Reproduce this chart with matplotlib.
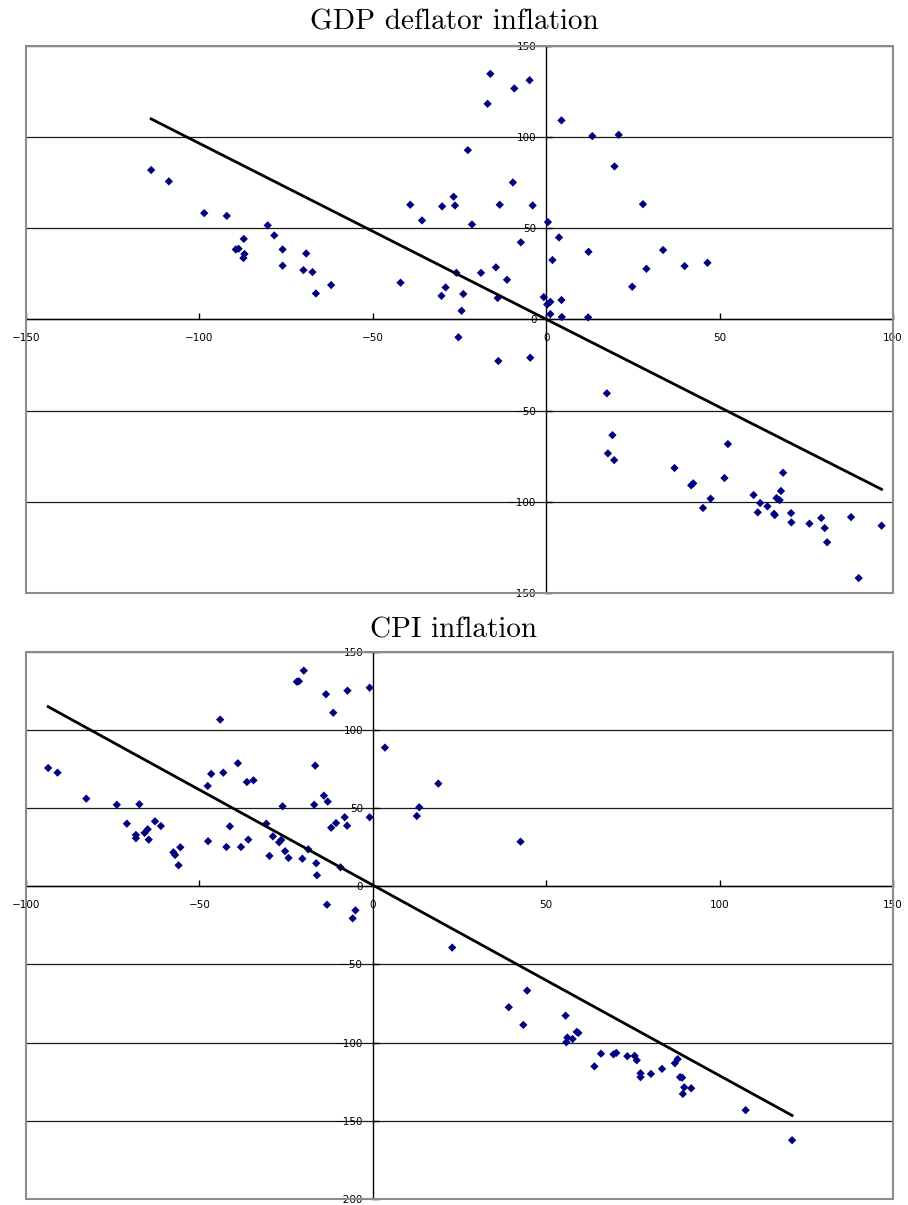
import numpy as np
import matplotlib
matplotlib.use('Agg')
import matplotlib.pyplot as plt
from matplotlib.patches import Rectangle

# GDP deflator inflation: (x, y) points
gdp_x = [-113.9, -108.8, -98.6, -92.1, -80.3, -78.4, -87.2, -89.5, -88.7, -87.0,
         -87.3, -76.0, -76.0, -70.0, -69.2, -67.4, -66.4, -62.0, -42.0, -39.2,
         -35.8, -30.2, -29.0, -30.0, -26.7, -26.3, -25.9, -23.9, -24.4, -25.3,
         -22.6, -21.4, -18.8, -16.9, -16.1, -14.5, -14.0, -13.4, -13.8, -11.3,
         -9.6, -9.2, -7.3, -4.8, -3.9, -4.6, -0.7, 0.5, 0.3, 1.2,
         1.8, 1.2, 3.7, 4.4, 4.4, 4.5, 12.1, 12.2, 13.3, 20.9,
         19.7, 27.9, 33.7, 28.9, 39.9, 46.5, 24.8, 17.5, 19.1, 17.8,
         19.6, 37.0, 52.4, 41.8, 42.4, 45.2, 47.4, 51.4, 59.8, 61.0,
         61.7, 63.8, 65.7, 65.9, 66.4, 67.3, 67.7, 68.3, 70.6, 70.7,
         75.9, 79.3, 80.3, 81.0, 87.9, 90.1, 96.7]
gdp_y = [81.8, 75.6, 58.2, 56.7, 51.5, 46.0, 44.1, 38.3, 38.7, 35.8,
         33.6, 38.3, 29.4, 27.0, 36.1, 25.9, 14.2, 18.8, 20.1, 62.8,
         54.2, 12.9, 17.5, 61.9, 67.2, 62.4, 25.5, 13.9, 4.7, -9.8,
         92.7, 52.0, 25.5, 118.1, 134.5, 28.5, 11.7, 62.8, -22.8, 21.7,
         75.0, 126.5, 42.2, 131.0, 62.4, -21.0, 12.2, 53.3, 8.2, 9.6,
         32.5, 2.9, 44.9, 109.0, 10.6, 1.3, 1.1, 37.0, 100.4, 101.1,
         83.8, 63.1, 38.0, 27.7, 29.2, 31.0, 17.9, -40.5, -63.4, -73.4,
         -77.1, -81.4, -68.3, -90.9, -89.8, -103.3, -98.2, -86.9, -96.2, -105.7,
         -100.6, -102.4, -106.5, -107.2, -97.9, -99.0, -94.0, -84.0, -106.1, -111.2,
         -111.9, -108.8, -114.3, -122.1, -108.3, -141.7, -113.0]

# CPI inflation: (x, y) points
cpi_x = [-93.6, -90.9, -82.6, -73.8, -67.3, -70.9, -68.3, -68.3, -65.8, -64.9,
         -64.6, -62.8, -61.1, -57.5, -57.0, -55.5, -56.0, -47.6, -46.6, -44.0,
         -43.1, -47.5, -41.2, -42.2, -38.9, -36.3, -34.4, -38.0, -35.9, -30.7,
         -26.0, -29.8, -28.8, -27.0, -26.4, -25.3, -24.3, -21.9, -21.3, -19.9,
         -13.5, -11.4, -7.3, -0.9, 3.5, 18.9, 13.4, 12.7, -0.9, -16.6,
         -14.1, -13.0, -16.9, -8.1, -7.4, -10.6, -12.0, -18.6, -16.3, -16.1,
         -9.3, -20.3, -13.2, -5.0, -5.8, 42.6, 22.9, 39.2, 44.5, 43.4,
         55.6, 55.8, 56.1, 57.6, 58.8, 59.3, 63.9, 65.8, 69.4, 70.2,
         73.4, 75.5, 76.1, 77.2, 77.2, 80.2, 83.4, 87.1, 87.9, 88.6,
         89.2, 89.8, 89.4, 91.8, 107.5, 120.9]
cpi_y = [75.6, 72.6, 56.0, 52.1, 52.4, 40.0, 32.8, 30.7, 34.1, 36.4,
         29.8, 41.5, 38.5, 21.7, 20.0, 24.9, 13.4, 64.1, 71.8, 106.5,
         72.6, 28.8, 38.3, 25.1, 78.6, 66.6, 67.7, 25.1, 29.8, 40.0,
         51.1, 19.4, 31.9, 28.1, 29.6, 22.4, 18.1, 130.7, 131.0, 137.8,
         122.7, 110.9, 125.0, 126.9, 88.6, 65.6, 50.5, 44.9, 44.1, 77.1,
         57.9, 54.1, 52.1, 44.1, 38.7, 40.4, 37.4, 23.6, 14.7, 7.0,
         12.1, 17.6, -11.8, -15.4, -20.5, 28.5, -39.2, -77.3, -66.7, -88.6,
         -82.7, -99.7, -96.7, -97.6, -93.1, -93.7, -115.1, -107.0, -107.4, -106.5,
         -108.6, -108.4, -111.2, -119.5, -122.0, -119.9, -116.7, -113.1, -110.5, -122.0,
         -122.3, -128.5, -132.7, -129.1, -143.1, -162.3]

gdp_xticks = [-150, -100, -50, 0, 50, 100]
gdp_yticks = [-150, -100, -50, 0, 50, 100, 150]
cpi_xticks = [-100, -50, 0, 50, 100, 150]
cpi_yticks = [-200, -150, -100, -50, 0, 50, 100, 150]


def scatter_panel(ax, x, y, xticks, yticks):
    x = np.array(x)
    y = np.array(y)
    ax.set_xlim(xticks[0], xticks[-1])
    ax.set_ylim(yticks[0], yticks[-1])
    ax.set_xticks(xticks)
    ax.set_yticks(yticks)

    # axes cross at the origin
    for side in ['left', 'bottom']:
        ax.spines[side].set_position(('data', 0))
        ax.spines[side].set_color('black')
        ax.spines[side].set_linewidth(1.0)
    for side in ['top', 'right']:
        ax.spines[side].set_visible(False)
    ax.add_patch(Rectangle((0, 0), 1, 1, transform=ax.transAxes, fill=False,
                           edgecolor='#8c8c8c', linewidth=1.5, clip_on=False, zorder=5))

    ax.yaxis.grid(True, color='#1a1a1a', linewidth=0.9)
    ax.set_axisbelow(True)
    ax.tick_params(direction='in', length=4, width=1, labelsize=7.5, colors='black')
    ax.tick_params(axis='x', pad=10)
    ax.tick_params(axis='y', pad=7)

    ax.scatter(x, y, marker='D', s=18, color='#000080', edgecolors='none', zorder=3)

    # linear trend line over the data range
    b, a = np.polyfit(x, y, 1)
    xs = np.array([x.min(), x.max()])
    ax.plot(xs, a + b * xs, color='black', linewidth=2, zorder=4)


fig = plt.figure(figsize=(9.08, 12.05), dpi=100)

ax1 = fig.add_axes([0.0286, 0.5077, 0.9549, 0.4545])
scatter_panel(ax1, gdp_x, gdp_y, gdp_xticks, gdp_yticks)
fig.text(0.5, 0.9815, 'GDP deflator inflation', ha='center', va='center',
         fontsize=21, family='cmr10')

ax2 = fig.add_axes([0.0286, 0.0048, 0.9549, 0.4545])
scatter_panel(ax2, cpi_x, cpi_y, cpi_xticks, cpi_yticks)
fig.text(0.5, 0.4772, 'CPI inflation', ha='center', va='center',
         fontsize=21, family='cmr10')

fig.savefig('out.png', dpi=100)
